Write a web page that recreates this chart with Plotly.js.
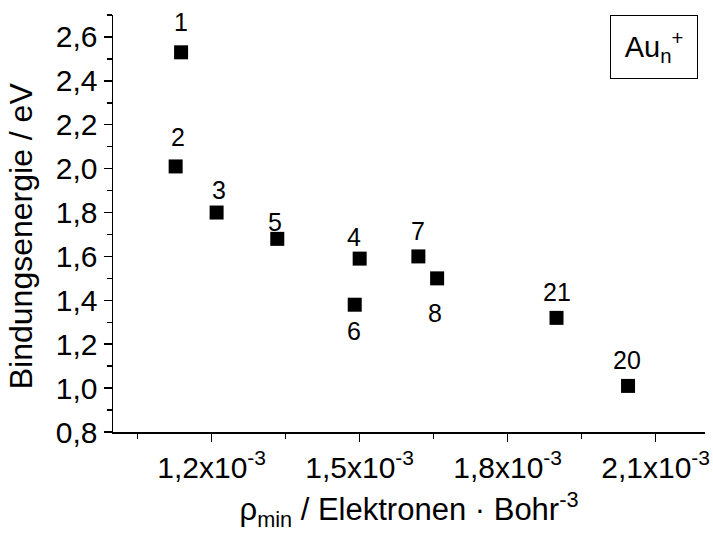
<!DOCTYPE html>
<html>
<head>
<meta charset="utf-8">
<script src="https://cdn.plot.ly/plotly-3.0.1.min.js"></script>
<style>
  html, body { margin: 0; padding: 0; background: #fff; }
  #chart { width: 713px; height: 536px; }
</style>
</head>
<body>
<div id="chart"></div>
<script>
// Cluster size n of Au_n+ and its values
const clusterSize = ['1', '2', '3', '5', '4', '6', '7', '8', '21', '20'];
const rhoMin = [1.138e-3, 1.127e-3, 1.210e-3, 1.333e-3, 1.500e-3, 1.490e-3, 1.619e-3, 1.657e-3, 1.899e-3, 2.044e-3];
const bindingEnergy = [2.53, 2.01, 1.80, 1.68, 1.59, 1.38, 1.60, 1.50, 1.32, 1.01];

// x tick marks and their labels
const xTickVals = [1.2e-3, 1.5e-3, 1.8e-3, 2.1e-3];
const xTickText = ['1,2x10<sup>-3</sup>', '1,5x10<sup>-3</sup>', '1,8x10<sup>-3</sup>', '2,1x10<sup>-3</sup>'];

// where each cluster-size label sits relative to its square (pixels)
const labelShiftY = [30, 29, 23, 17, 22, -26, 25, -35, 26, 26];
const labelShiftX = [0, 2, 2, -2, -6, -1, 0, -2, 0, -1];

const FONT = 'Liberation Sans, Arial, sans-serif';

const trace = {
  x: rhoMin,
  y: bindingEnergy,
  type: 'scatter',
  mode: 'markers',
  marker: { symbol: 'square', size: 14, color: '#000' },
  hoverinfo: 'x+y',
  showlegend: false
};

const labels = clusterSize.map((n, i) => ({
  x: rhoMin[i], y: bindingEnergy[i], xref: 'x', yref: 'y',
  text: n, showarrow: false,
  xshift: labelShiftX[i], yshift: labelShiftY[i],
  font: { family: FONT, size: 25, color: '#000' }
}));

// species tag in the upper right corner
labels.push({
  xref: 'paper', yref: 'paper', x: 0.988, y: 1.0,
  xanchor: 'right', yanchor: 'top',
  text: 'Au<sub>n</sub><sup>+</sup>', showarrow: false,
  width: 66, height: 42,
  bordercolor: '#000', borderwidth: 1, borderpad: 10,
  bgcolor: '#fff',
  font: { family: FONT, size: 29, color: '#000' }
});

// y axis title, set a little below the middle of the axis
labels.push({
  xref: 'paper', yref: 'paper', x: -0.155, y: 0.47,
  xanchor: 'center', yanchor: 'middle', textangle: -90,
  text: 'Bindungsenergie / eV', showarrow: false,
  font: { family: FONT, size: 32, color: '#000' }
});

const axisCommon = {
  showline: true, linecolor: '#000', linewidth: 1.5,
  ticks: 'outside', ticklen: 8, tickwidth: 1.5, tickcolor: '#000',
  showgrid: false, zeroline: false, mirror: false,
  tickfont: { family: FONT, size: 30, color: '#000' }
};

const layout = {
  width: 713, height: 536,
  margin: { l: 113, r: 8, t: 15, b: 104 },
  paper_bgcolor: '#fff', plot_bgcolor: '#fff',
  separators: ', ',
  font: { family: FONT, color: '#000' },
  xaxis: Object.assign({}, axisCommon, {
    range: [1.0e-3, 2.2e-3],
    tickvals: xTickVals, ticktext: xTickText,
    minor: { tickvals: [1.05e-3, 1.35e-3, 1.65e-3, 1.95e-3], ticks: 'outside', ticklen: 5, tickwidth: 1.5, tickcolor: '#000' },
    title: { text: 'ρ<sub>min</sub> / Elektronen · Bohr<sup>-3</sup>', font: { family: FONT, size: 31, color: '#000' }, standoff: 16 }
  }),
  yaxis: Object.assign({}, axisCommon, {
    range: [0.8, 2.7],
    tick0: 0.8, dtick: 0.2, tickformat: '.1f',
    minor: { dtick: 0.1, tick0: 0.8, ticks: 'outside', ticklen: 5, tickwidth: 1.5, tickcolor: '#000' }
  }),
  annotations: labels
};

Plotly.newPlot('chart', [trace], layout, { displayModeBar: false, staticPlot: true });
</script>
</body>
</html>
